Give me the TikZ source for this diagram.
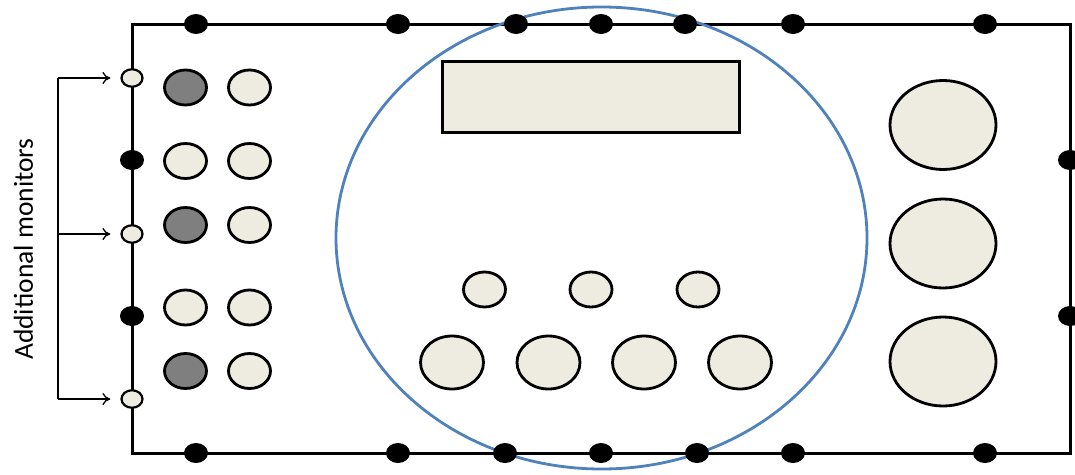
\documentclass[tikz,border=0pt]{standalone}
\usepackage{fontspec}
\setmainfont{Carlito}
\usetikzlibrary{shapes.geometric,arrows.meta}
\definecolor{knob}{HTML}{EEECE1}
\definecolor{darkknob}{HTML}{7F7F7F}
\definecolor{zone}{HTML}{4F81BD}
\begin{document}
\begin{tikzpicture}[x=1pt,y=-1pt,
  frame/.style={line width=3pt},
  pin/.style={ellipse,fill=black,inner sep=0pt,minimum width=24pt,minimum height=20pt},
  port/.style={ellipse,draw,line width=2.2pt,fill=knob,inner sep=0pt,minimum width=21pt,minimum height=17.5pt},
  knobS/.style={ellipse,draw,line width=2.8pt,fill=knob,inner sep=0pt,minimum width=42pt,minimum height=35pt},
  knobD/.style={knobS,fill=darkknob},
  knobM/.style={knobS,minimum width=63pt,minimum height=53pt},
  knobL/.style={knobS,minimum width=106pt,minimum height=89pt},
  panel/.style={draw,line width=2.8pt,fill=knob,inner sep=0pt,minimum width=297pt,minimum height=71pt},
  region/.style={ellipse,draw=zone,line width=2.8pt,inner sep=0pt,minimum width=531pt,minimum height=462pt},
  feed/.style={line width=1.3pt,-{To[length=8pt,width=12pt,line width=1.3pt]},shorten >=10pt}
]
\useasboundingbox (0,0) rectangle (1075,474);
% frame
\draw[frame] (132,24) -- (1070,24) -- (1070,453) -- (132,453) -- cycle;
% blue region
\node[region] (zone) at (601.5,238) {};
% pins on top
\foreach \x/\n in {196/1,398/2,516/3,601/4,685/5,793/6,985/7}
  \node[pin] (t\n) at (\x,24) {};
\foreach \x/\n in {196/1,398/2,505/3,601/4,697/5,793/6,985/7}
  \node[pin] (b\n) at (\x,453) {};
\node[pin] (l1) at (132,160) {};
\node[pin] (l2) at (132,316) {};
\node[pin] (r1) at (1070,160) {};
\node[pin] (r2) at (1070,316) {};
% ports (monitors)
\node[port] (p1) at (132,78) {};
\node[port] (p2) at (132,234) {};
\node[port] (p3) at (132,399) {};
% left knobs
\node[knobD] (k11) at (185.5,87.5) {};
\node[knobS] (k12) at (249.5,87.5) {};
\node[knobS] (k21) at (185.5,161) {};
\node[knobS] (k22) at (249.5,161) {};
\node[knobD] (k31) at (185.5,225) {};
\node[knobS] (k32) at (249.5,225) {};
\node[knobS] (k41) at (185.5,307.5) {};
\node[knobS] (k42) at (249.5,307.5) {};
\node[knobD] (k51) at (185.5,371) {};
\node[knobS] (k52) at (249.5,371) {};
% panel
\node[panel] (disp) at (591,97) {};
% middle knobs
\node[knobS] (m1) at (484.5,289.5) {};
\node[knobS] (m2) at (591,289.5) {};
\node[knobS] (m3) at (698,289.5) {};
\node[knobM] (n1) at (452,362.5) {};
\node[knobM] (n2) at (548.5,362.5) {};
\node[knobM] (n3) at (644,362.5) {};
\node[knobM] (n4) at (740,362.5) {};
% right knobs
\node[knobL] (g1) at (943,125) {};
\node[knobL] (g2) at (943,243.5) {};
\node[knobL] (g3) at (943,361.5) {};
% monitors bracket
\coordinate (c1) at (58,78);
\coordinate (c2) at (58,234);
\coordinate (c3) at (58,399);
\draw[line width=1.3pt] (c1) -- (c3);
\draw[feed] (c1) -- (p1.west);
\draw[feed] (c2) -- (p2.west);
\draw[feed] (c3) -- (p3.west);
\node[rotate=90,font=\fontsize{27.5}{32}\selectfont,inner sep=0pt] (lab) at (23.5,249) {Additional monitors};
\end{tikzpicture}
\end{document}
